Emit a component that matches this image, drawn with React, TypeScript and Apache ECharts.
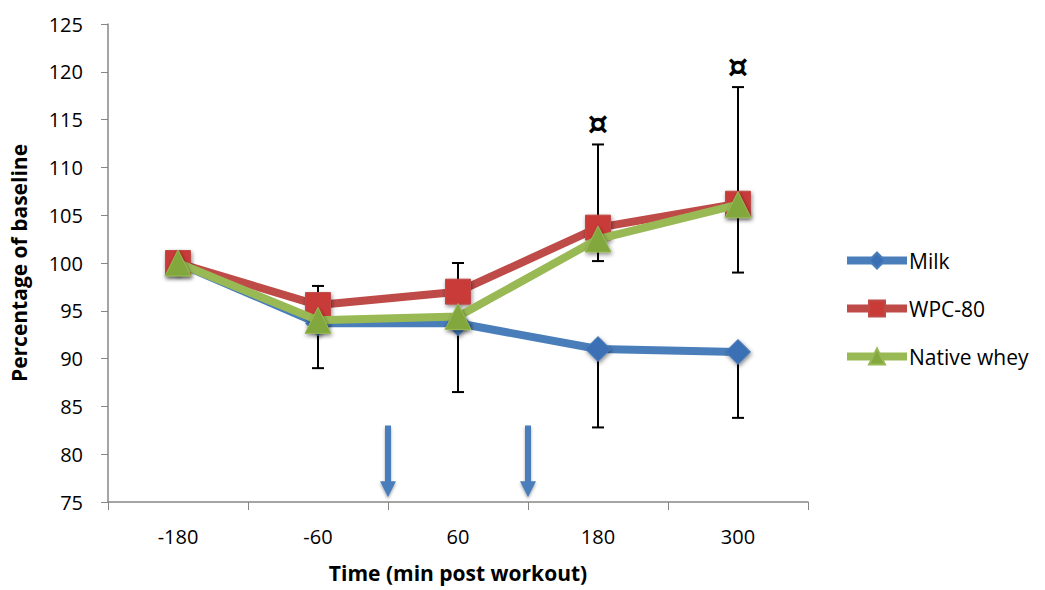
import React, { useEffect, useRef } from "react";
import * as echarts from "echarts";

const categories = ["-180", "-60", "60", "180", "300"];
const milk = [100, 93.7, 93.7, 91.0, 90.7];
const wpc80 = [100, 95.6, 97.0, 103.7, 106.2];
const nativeWhey = [100, 94.0, 94.4, 102.5, 106.1];
// error bars: [category index, low, high]
const errorBars = [
  [1, 89.0, 97.6],
  [2, 86.5, 100.0],
  [3, 100.2, 112.4],
  [3, 82.8, 91.0],
  [4, 99.0, 118.4],
  [4, 83.8, 90.7],
];
// significance marks: [category index, value]
const marks = [
  [3, 114.6],
  [4, 120.6],
];
// arrows between categories: [category index (arrow right of it), top, tip]
const arrows = [
  [1, 83.0, 75.5],
  [2, 83.0, 75.5],
];
const yTicks = { min: 75, max: 125, interval: 5 };

const FONT = "'Open Sans', 'Liberation Sans', sans-serif";

export default function App() {
  const ref = useRef<HTMLDivElement>(null);
  useEffect(() => {
    const chart = echarts.init(ref.current!, null, { renderer: "svg" });
    const shadow = {
      shadowBlur: 4,
      shadowColor: "rgba(0,0,0,0.45)",
      shadowOffsetY: 2,
      shadowOffsetX: 1,
    };
    chart.setOption({
      animation: false,
      grid: { left: 108, right: 237, top: 24, bottom: 88 },
      legend: {
        data: ["Milk", "WPC-80", "Native whey"],
        orient: "vertical",
        left: 843,
        top: 250,
        padding: 0,
        itemWidth: 60,
        itemHeight: 20,
        itemGap: 27,
        lineStyle: { width: 8 },
        textStyle: { fontFamily: FONT, fontSize: 21, color: "#000", padding: [0, 0, 0, -3] },
      },
      xAxis: {
        type: "category",
        data: categories,
        name: "Time (min post workout)",
        nameLocation: "middle",
        nameGap: 60,
        nameTextStyle: { fontFamily: FONT, fontSize: 21, fontWeight: "bold", color: "#000" },
        axisLine: { lineStyle: { color: "#868686", width: 1.5 } },
        axisTick: { show: true, length: 8, lineStyle: { color: "#868686" } },
        axisLabel: { fontFamily: FONT, fontSize: 20, color: "#000", margin: 24 },
      },
      yAxis: {
        type: "value",
        min: yTicks.min,
        max: yTicks.max,
        interval: yTicks.interval,
        name: "Percentage of baseline",
        nameLocation: "middle",
        nameGap: 79,
        nameTextStyle: { fontFamily: FONT, fontSize: 21, fontWeight: "bold", color: "#000" },
        axisLine: { show: true, lineStyle: { color: "#868686", width: 1.5 } },
        axisTick: { show: true, length: 7, lineStyle: { color: "#868686" } },
        axisLabel: { fontFamily: FONT, fontSize: 20, color: "#000", margin: 25 },
        splitLine: { show: false },
      },
      series: [
        {
          type: "custom",
          name: "errors",
          z: 1,
          data: errorBars,
          encode: { x: 0, y: [1, 2] },
          renderItem: (params: any, api: any) => {
            const lo = api.coord([api.value(0), api.value(1)]);
            const hi = api.coord([api.value(0), api.value(2)]);
            const w = 6;
            const style = { stroke: "#000", lineWidth: 2 };
            return {
              type: "group",
              children: [
                { type: "line", shape: { x1: lo[0], y1: lo[1], x2: hi[0], y2: hi[1] }, style },
                { type: "line", shape: { x1: lo[0] - w, y1: lo[1], x2: lo[0] + w, y2: lo[1] }, style },
                { type: "line", shape: { x1: hi[0] - w, y1: hi[1], x2: hi[0] + w, y2: hi[1] }, style },
              ],
            };
          },
        },
        {
          type: "line",
          name: "Milk",
          z: 2,
          data: milk,
          lineStyle: { color: "#4a7ebb", width: 8 },
          symbol: "diamond",
          symbolSize: 25,
          itemStyle: { color: "#3a6fb5", borderColor: "#4a7ebb", borderWidth: 1, ...shadow },
        },
        {
          type: "line",
          name: "WPC-80",
          z: 3,
          data: wpc80,
          lineStyle: { color: "#be4b48", width: 8 },
          symbol: "rect",
          symbolSize: 25,
          itemStyle: { color: "#c83b37", borderColor: "#be4b48", borderWidth: 1, ...shadow },
        },
        {
          type: "line",
          name: "Native whey",
          z: 4,
          data: nativeWhey,
          lineStyle: { color: "#98b954", width: 8 },
          symbol: "triangle",
          symbolSize: 26,
          itemStyle: { color: "#82a83e", borderColor: "#98b954", borderWidth: 1, ...shadow },
        },
        {
          type: "custom",
          name: "marks",
          z: 5,
          data: marks,
          encode: { x: 0, y: 1 },
          renderItem: (params: any, api: any) => {
            const p = api.coord([api.value(0), api.value(1)]);
            return {
              type: "text",
              x: p[0],
              y: p[1],
              style: {
                text: "¤",
                fontFamily: "'DejaVu Sans', sans-serif",
                fontSize: 32,
                fontWeight: "bold",
                fill: "#000",
                align: "center",
                verticalAlign: "middle",
              },
            };
          },
        },
        {
          type: "custom",
          name: "arrows",
          z: 5,
          data: arrows,
          encode: { x: 0, y: [1, 2] },
          renderItem: (params: any, api: any) => {
            const top = api.coord([api.value(0), api.value(1)]);
            const tip = api.coord([api.value(0), api.value(2)]);
            const half = api.size([1, 0])[0] / 2;
            const x = top[0] + half;
            const sw = 3;
            const hw = 8;
            const hh = 16;
            const hy = tip[1] - hh;
            return {
              type: "polygon",
              shape: {
                points: [
                  [x - sw, top[1]],
                  [x + sw, top[1]],
                  [x + sw, hy],
                  [x + hw, hy],
                  [x, tip[1]],
                  [x - hw, hy],
                  [x - sw, hy],
                ],
              },
              style: { fill: "#4a7ebb", shadowBlur: 3, shadowColor: "rgba(0,0,0,0.35)", shadowOffsetY: 2 },
            };
          },
        },
      ],
    });
    return () => chart.dispose();
  }, []);
  return (
    <div
      ref={ref}
      style={{ position: "absolute", left: 0, top: 0, width: 1045, height: 590 }}
    />
  );
}
